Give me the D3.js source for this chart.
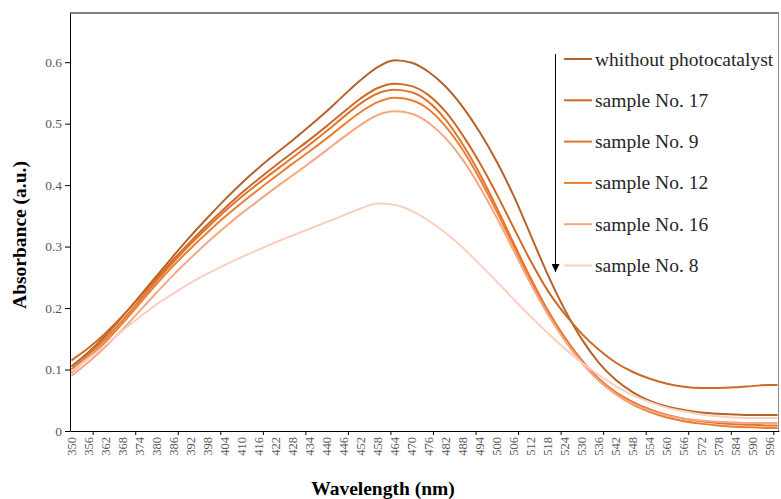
<!DOCTYPE html>
<html>
<head>
<meta charset="utf-8">
<script src="https://cdn.jsdelivr.net/npm/d3@7"></script>
<style>
  body { margin: 0; background: #fff; }
  text { font-family: "Liberation Serif", "Times New Roman", serif; }
</style>
</head>
<body>
<div id="chart"></div>
<script>
// Sampled wavelengths (nm)
const wavelengths = [350, 356, 362, 368, 374, 380, 386, 392, 398, 404, 410, 416, 422, 428,
  434, 440, 446, 452, 458, 464, 470, 476, 482, 488, 494, 500, 506, 512, 518, 524, 530,
  536, 542, 548, 554, 560, 566, 572, 578, 584, 590, 596, 599];

// Absorbance values for every series
const without = [0.105, 0.128, 0.155, 0.186, 0.219, 0.252, 0.285, 0.317, 0.347, 0.376, 0.403, 0.428,
  0.451, 0.473, 0.496, 0.520, 0.546, 0.571, 0.592, 0.603, 0.599, 0.584, 0.560, 0.527, 0.486,
  0.438, 0.382, 0.318, 0.254, 0.197, 0.149, 0.111, 0.083, 0.063, 0.049, 0.040, 0.034, 0.030,
  0.028, 0.027, 0.026, 0.026, 0.026];
const no17 = [0.115, 0.135, 0.159, 0.187, 0.217, 0.248, 0.279, 0.308, 0.336, 0.362, 0.387, 0.410,
  0.432, 0.453, 0.474, 0.496, 0.519, 0.541, 0.558, 0.565, 0.561, 0.546, 0.519, 0.481, 0.436,
  0.385, 0.330, 0.276, 0.228, 0.190, 0.158, 0.132, 0.111, 0.096, 0.085, 0.077, 0.072, 0.070,
  0.070, 0.071, 0.073, 0.075, 0.075];
const no9 = [0.100, 0.124, 0.150, 0.180, 0.212, 0.244, 0.275, 0.304, 0.331, 0.357, 0.381, 0.403,
  0.424, 0.445, 0.466, 0.488, 0.511, 0.533, 0.549, 0.555, 0.551, 0.535, 0.506, 0.466, 0.418,
  0.363, 0.305, 0.248, 0.196, 0.152, 0.115, 0.085, 0.063, 0.047, 0.035, 0.026, 0.020, 0.016,
  0.013, 0.011, 0.010, 0.009, 0.009];
const no12 = [0.095, 0.119, 0.145, 0.175, 0.207, 0.239, 0.269, 0.297, 0.323, 0.348, 0.371, 0.393,
  0.414, 0.435, 0.455, 0.476, 0.498, 0.519, 0.535, 0.542, 0.538, 0.523, 0.495, 0.457, 0.410,
  0.357, 0.300, 0.244, 0.193, 0.149, 0.112, 0.082, 0.060, 0.043, 0.031, 0.022, 0.016, 0.012,
  0.009, 0.007, 0.006, 0.005, 0.005];
const no16 = [0.090, 0.112, 0.137, 0.165, 0.195, 0.225, 0.254, 0.281, 0.307, 0.331, 0.354, 0.375,
  0.396, 0.416, 0.436, 0.457, 0.478, 0.498, 0.514, 0.520, 0.516, 0.501, 0.476, 0.441, 0.397,
  0.347, 0.293, 0.239, 0.190, 0.147, 0.111, 0.082, 0.060, 0.044, 0.033, 0.025, 0.020, 0.017,
  0.015, 0.014, 0.013, 0.013, 0.013];
const no8 = [0.097, 0.118, 0.140, 0.163, 0.185, 0.206, 0.224, 0.241, 0.256, 0.270, 0.283, 0.295,
  0.307, 0.318, 0.329, 0.340, 0.351, 0.362, 0.370, 0.368, 0.358, 0.342, 0.322, 0.298, 0.271,
  0.243, 0.214, 0.186, 0.159, 0.134, 0.111, 0.091, 0.073, 0.058, 0.047, 0.038, 0.032, 0.027,
  0.024, 0.022, 0.021, 0.021, 0.021];

const seriesNames = ["whithout photocatalyst", "sample No. 17", "sample No. 9",
  "sample No. 12", "sample No. 16", "sample No. 8"];
const seriesValues = [without, no17, no9, no12, no16, no8];
const colors = ["#b5632b", "#cf6a26", "#e07530", "#ed7d31", "#f4a882", "#f9d0bf"];

// Axis ticks
const yTicks = [0, 0.1, 0.2, 0.3, 0.4, 0.5, 0.6];
const xLabels = d3.range(350, 597, 6);
const xTickMarks = d3.range(357.5, 600, 15);

let width = 781, height = 499;
let margin = { top: 13, bottom: 68, right: 2, left: 70 };

let svg = d3.select('#chart')
            .append('svg')
            .attr('width', width)
            .attr('height', height)
            .style('background', '#fff');

let x = d3.scaleLinear()
          .domain([349.5, 599.5])
          .range([margin.left, width - margin.right]);

let y = d3.scaleLinear()
          .domain([0, 0.68])
          .range([height - margin.bottom, margin.top]);

// Frame: top and right edges
svg.append('line')
    .attr('x1', margin.left).attr('x2', width - margin.right)
    .attr('y1', margin.top).attr('y2', margin.top)
    .attr('stroke', '#000').attr('stroke-width', 1);
svg.append('line')
    .attr('x1', width - margin.right - 0.5).attr('x2', width - margin.right - 0.5)
    .attr('y1', margin.top).attr('y2', height - margin.bottom)
    .attr('stroke', '#8c8c8c').attr('stroke-width', 1);

// Y axis
let yAxis = svg.append('g')
    .attr('transform', `translate(${margin.left},0)`)
    .call(d3.axisLeft(y).tickValues(yTicks).tickSize(5).tickSizeOuter(0)
      .tickFormat(d => d === 0 ? '0' : d3.format('.1f')(d)));
yAxis.select('.domain').attr('stroke', '#000');
yAxis.selectAll('text')
    .style('font-family', '"Liberation Serif", serif')
    .style('font-size', '13.5px')
    .attr('fill', '#595959');

// X axis line + tick marks
let xAxis = svg.append('g')
    .attr('transform', `translate(0,${height - margin.bottom})`)
    .call(d3.axisBottom(x).tickValues(xTickMarks).tickSize(4).tickSizeOuter(0).tickFormat(''));
xAxis.select('.domain').attr('stroke', '#000');

// X tick labels, rotated
svg.append('g')
    .selectAll('text')
    .data(xLabels)
    .enter()
    .append('text')
    .attr('transform', d => `translate(${x(d) + 4.5},${height - margin.bottom + 6}) rotate(-90)`)
    .attr('text-anchor', 'end')
    .style('font-size', '12.5px')
    .attr('fill', '#595959')
    .text(d => d);

// Axis titles
svg.append('text')
    .attr('x', 383)
    .attr('y', 495)
    .attr('text-anchor', 'middle')
    .style('font-size', '19.5px')
    .style('font-weight', 'bold')
    .text('Wavelength (nm)');

svg.append('text')
    .attr('transform', 'translate(26,235) rotate(-90)')
    .attr('text-anchor', 'middle')
    .style('font-size', '19.5px')
    .style('font-weight', 'bold')
    .text('Absorbance (a.u.)');

// Curves
let line = d3.line()
    .x((d, i) => x(wavelengths[i]))
    .y(d => y(d))
    .curve(d3.curveMonotoneX);

seriesValues.forEach((vals, i) => {
    svg.append('path')
        .datum(vals)
        .attr('fill', 'none')
        .attr('stroke', colors[i])
        .attr('stroke-width', 2)
        .attr('d', line);
});

// Legend with arrow
svg.append('defs').append('marker')
    .attr('id', 'arrow')
    .attr('viewBox', '0 0 10 10')
    .attr('refX', 10).attr('refY', 5)
    .attr('markerWidth', 8).attr('markerHeight', 8)
    .attr('orient', 'auto')
    .append('path')
    .attr('d', 'M0,0 L10,5 L0,10 z')
    .attr('fill', '#000');

svg.append('line')
    .attr('x1', 555.5).attr('x2', 555.5)
    .attr('y1', 54).attr('y2', 272)
    .attr('stroke', '#000').attr('stroke-width', 1)
    .attr('marker-end', 'url(#arrow)');

let legend = svg.append('g').attr('transform', 'translate(564,59)');
seriesNames.forEach((name, i) => {
    legend.append('line')
        .attr('x1', 0).attr('x2', 28)
        .attr('y1', i * 41.3).attr('y2', i * 41.3)
        .attr('stroke', colors[i]).attr('stroke-width', 2);
    legend.append('text')
        .attr('x', 31)
        .attr('y', i * 41.3 + 6.5)
        .style('font-size', '19.5px')
        .attr('fill', '#262626')
        .text(name);
});
</script>
</body>
</html>
